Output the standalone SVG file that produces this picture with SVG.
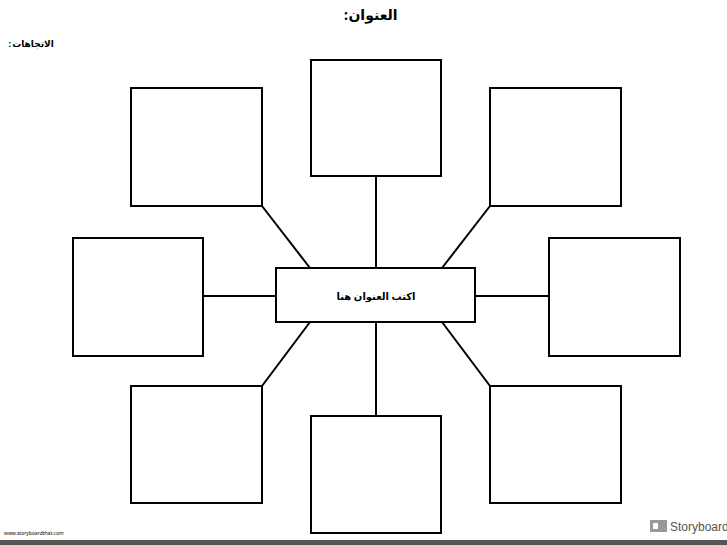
<svg xmlns="http://www.w3.org/2000/svg" width="727" height="545" viewBox="0 0 727 545">
<style>
.b{fill:#fff;stroke:#000;stroke-width:2}
.c line{stroke:#000;stroke-width:2}
text{font-family:"Noto Sans","DejaVu Sans",sans-serif;font-weight:bold;fill:#000}
</style>
<rect width="727" height="545" fill="#fff"/>
<text x="373" y="20" font-size="14" text-anchor="middle">العنوان</text>
<text x="348" y="20" font-size="14" text-anchor="end">:</text>
<text x="33" y="47" font-size="9" text-anchor="middle">الاتجاهات</text>
<text x="11" y="47" font-size="9" text-anchor="end">:</text>
<g class="c" id="connectors">
<line x1="376" y1="176" x2="376" y2="268"/>
<line x1="376" y1="322" x2="376" y2="416"/>
<line x1="203" y1="296" x2="276" y2="296"/>
<line x1="475" y1="296" x2="549" y2="296"/>
<line x1="262" y1="206" x2="310" y2="268"/>
<line x1="490" y1="206" x2="442" y2="268"/>
<line x1="262" y1="386" x2="310" y2="322"/>
<line x1="490" y1="386" x2="442" y2="322"/>
</g>
<g id="center"><rect class="b" x="276" y="268" width="199" height="54"/><text x="376" y="300" font-size="10" text-anchor="middle">اكتب العنوان هنا</text></g>
<g id="n1"><rect class="b" x="311" y="60" width="130" height="116"/></g>
<g id="n2"><rect class="b" x="131" y="88" width="131" height="118"/></g>
<g id="n3"><rect class="b" x="490" y="88" width="131" height="118"/></g>
<g id="n4"><rect class="b" x="73" y="238" width="130" height="118"/></g>
<g id="n5"><rect class="b" x="549" y="238" width="131" height="118"/></g>
<g id="n6"><rect class="b" x="131" y="386" width="131" height="117"/></g>
<g id="n7"><rect class="b" x="311" y="416" width="130" height="117"/></g>
<g id="n8"><rect class="b" x="490" y="386" width="131" height="117"/></g>
<text x="4" y="535" font-size="5" style="font-weight:normal">www.storyboardthat.com</text>
<rect x="650" y="520" width="17" height="12" fill="#999"/>
<rect x="653" y="523" width="5" height="6" fill="#fff"/>
<text x="670" y="531" font-size="12" style="font-weight:normal;font-family:'Liberation Sans Narrow','Liberation Sans',sans-serif;fill:#555">StoryboardT</text>
<rect x="0" y="540" width="727" height="5" fill="#555"/>
</svg>
